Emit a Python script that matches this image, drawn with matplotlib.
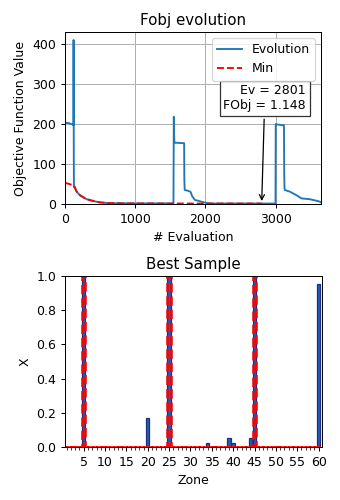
import matplotlib
matplotlib.use('Agg')
import matplotlib.pyplot as plt
from matplotlib.ticker import MultipleLocator

# objective function evolution, vertices
evoEv =[0, 3, 8, 60, 118, 121, 123, 126, 128, 142, 166, 213, 260, 309, 403, 498, 600, 700,
        1000, 1545, 1550, 1553, 1558, 1565, 1600, 1697, 1700, 1705, 1754, 1790, 1800,
        1810, 1850, 1900, 1960, 2030, 2100, 2500, 2998, 3001, 3010, 3105, 3118, 3122,
        3126, 3130, 3200, 3296, 3367, 3485, 3560, 3627, 3645]
evoVal =[220, 205, 203, 202, 198, 196, 410, 120, 43, 43, 31, 22, 17, 12, 7.5, 4, 2.5, 2,
         1.5, 1.5, 218, 180, 155, 153, 153, 152, 60, 35, 33, 30, 25,
         20, 10, 8, 5, 2, 1.2, 1.2, 1.2, 200, 199, 197, 197, 75,
         40, 35, 31, 22, 14, 12, 9, 6, 4]

# running minimum
minEv =[0, 60, 118, 128, 142, 166, 213, 260, 309, 403, 498, 600, 800, 1200, 2801]
minVal =[53, 50, 47, 43, 40, 31, 22, 17, 12, 7.5, 4, 2.5, 1.6, 1.3, 1.148]

bestEv =2801
bestFobj =1.148

# best sample per zone
zones =list(range(1, 61))
bestX =[0.0] *60
bestX[4] =1.0
bestX[19] =0.17
bestX[24] =1.0
bestX[33] =0.025
bestX[38] =0.05
bestX[39] =0.025
bestX[43] =0.05
bestX[44] =1.0
bestX[59] =0.955

# reference sample
refX =[0.0] *60
refX[4] =1.0
refX[24] =1.0
refX[44] =1.0

DPI =90
fig =plt.figure(figsize=(340/DPI, 500/DPI), dpi=DPI)

#--------------------------------------------------------------------------
# top: evolution
#--------------------------------------------------------------------------
ax1 =fig.add_axes([0.191, 0.592, 0.753, 0.344])
ax1.plot(evoEv, evoVal, color='C0', label='Evolution')
ax1.plot(minEv, minVal, 'r--', label='Min')
ax1.annotate('Ev = {0}\nFObj = {1}'.format(bestEv, bestFobj),
             xy=(bestEv, bestFobj), xytext=(2845, 264),
             ha='center', va='center', multialignment='right',
             bbox=dict(boxstyle='square', fc='w', ec='0.2'),
             arrowprops=dict(arrowstyle='->', color='k'))
ax1.set_xlim(0, 3645)
ax1.set_ylim(0, 430)
ax1.set_yticks([0, 100, 200, 300, 400])
ax1.grid(True)
ax1.legend(loc='upper right')
ax1.set_title('Fobj evolution')
ax1.set_xlabel('# Evaluation')
ax1.set_ylabel('Objective Function Value')

#--------------------------------------------------------------------------
# bottom: best sample
#--------------------------------------------------------------------------
ax2 =fig.add_axes([0.191, 0.106, 0.756, 0.342])
ax2.bar(zones, bestX, width=0.8, color='#2160b0', edgecolor='#1a2f8a', linewidth=1)
ax2.bar(zones, refX, width=0.8, fill=False, edgecolor='red', linestyle='--', linewidth=2)
ax2.set_xlim(0.6, 60.8)
ax2.set_ylim(0, 1)
ax2.xaxis.set_major_locator(MultipleLocator(5))
ax2.xaxis.set_minor_locator(MultipleLocator(1))
ax2.set_xticks([5, 10, 15, 20, 25, 30, 35, 40, 45, 50, 55, 60])
ax2.set_title('Best Sample')
ax2.set_xlabel('Zone')
ax2.set_ylabel('X')

fig.savefig('out.png', dpi=DPI)
